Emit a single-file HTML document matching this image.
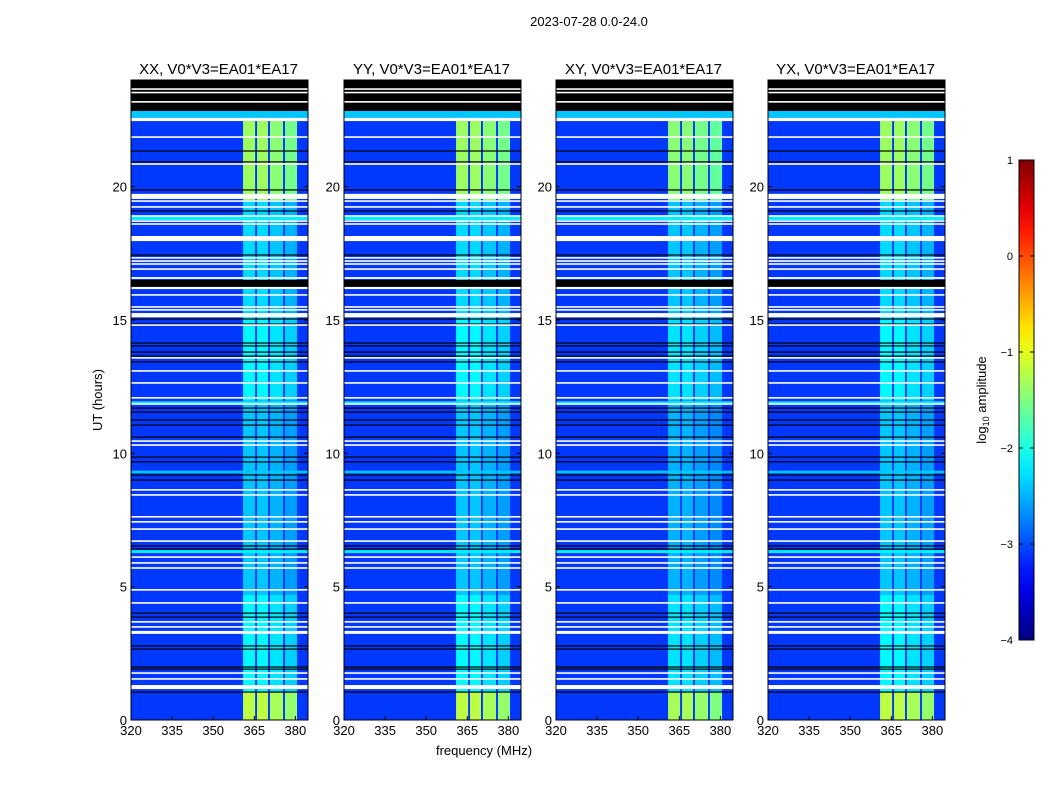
<!DOCTYPE html>
<html><head><meta charset="utf-8"><style>
html,body{margin:0;padding:0;background:#fff;}
svg text{font-family:"Liberation Sans","DejaVu Sans",sans-serif;}
</style></head><body>
<svg id="fig" width="1050" height="800" xmlns="http://www.w3.org/2000/svg">
<text x="589" y="26" font-size="13" text-anchor="middle">2023-07-28 0.0-24.0</text>
<text x="484" y="755" font-size="13" text-anchor="middle">frequency (MHz)</text>
<text x="102" y="400" font-size="13" text-anchor="middle" transform="rotate(-90 102 400)">UT (hours)</text>
<text x="986" y="400" font-size="13" text-anchor="middle" transform="rotate(-90 986 400)">log<tspan font-size="9" dy="3">10</tspan><tspan dy="-3"> amplitude</tspan></text>
<g id="panels"></g>
<g id="cbar"></g>
</svg>
<script>
const panelTitles=["XX, V0*V3=EA01*EA17","YY, V0*V3=EA01*EA17","XY, V0*V3=EA01*EA17","YX, V0*V3=EA01*EA17"];
const panelLeft=[131,344,556,768];
const panelOffset=[0,0,-0.1,0];
const xTicks=[320,335,350,365,380];
const yTicks=[0,5,10,15,20];
const cbTicks=[1,0,-1,-2,-3,-4];
const backgroundLevel=-3.1;
// bright stripes [f0,f1,offset] in MHz
const stripes=[[360.9,365.3,0],[366,370,0],[370.7,375.5,-0.1],[376.2,380.6,-0.2]];
// time segments [t0,t1,stripe level]
const segments=[[0,1.05,-1.2],[1.05,4.7,-2.15],[4.7,12,-2.4],[12,15.1,-2.15],[15.1,19.5,-2.3],[19.5,22.5,-1.35],[22.5,22.84,-2.5]];
// broadband cyan rows [t0,t1,level]
const cyanBands=[[22.58,22.84,-2.4],[18.75,18.9,-2.2],[11.85,11.95,-2.2],[9.25,9.35,-2.4],[6.26,6.37,-2.2]];
const blackBands=[[22.84,24],[21.32,21.36],[20.91,20.95],[19.86,19.9],[19.07,19.11],[17.42,17.46],[16.24,16.5],[15.02,15.06],[14.83,14.87],[14.12,14.16],[14.01,14.05],[13.78,13.82],[13.63,13.67],[13.41,13.45],[11.68,11.72],[11.53,11.57],[11.23,11.27],[11.04,11.08],[10.59,10.63],[9.84,9.88],[9.66,9.7],[9.17,9.21],[8.98,9.02],[6.51,6.55],[6.39,6.43],[3.99,4.03],[3.84,3.88],[2.76,2.8],[2.64,2.68],[1.97,2.01],[1.89,1.93],[1.03,1.07]];
const whiteBands=[[23.63,23.69],[23.5,23.56],[23.15,23.21],[22.46,22.58],[21.83,21.89],[20.82,20.88],[19.54,19.73],[19.43,19.49],[19.21,19.27],[18.87,18.93],[18.68,18.74],[18.57,18.63],[17.96,18.15],[17.3,17.36],[17.18,17.24],[17.07,17.13],[16.88,16.94],[16.54,16.61],[16.16,16.24],[15.91,15.97],[15.46,15.52],[15.35,15.41],[15.1,15.26],[14.78,14.84],[13.55,13.61],[13.06,13.12],[12.61,12.67],[12.05,12.11],[11.82,11.88],[10.43,10.49],[10.28,10.34],[8.6,8.66],[8.41,8.47],[7.59,7.65],[7.4,7.46],[7.13,7.19],[6.68,6.74],[6.08,6.14],[5.86,5.92],[5.67,5.73],[4.85,4.91],[4.36,4.42],[3.65,3.71],[3.46,3.52],[3.23,3.34],[1.73,1.79],[1.51,1.57],[1.16,1.31]];

const NS="http://www.w3.org/2000/svg";
const PW=177, TOP=80, BOT=720, F0=320, F1=384.6;
function yScale(t){return BOT-(t/24)*(BOT-TOP);}
function jet(v){let x=(v+4)/5;x=Math.max(0,Math.min(1,x));
 const c=(a)=>Math.max(0,Math.min(1,a));
 const r=c(1.5-Math.abs(4*x-3)),g=c(1.5-Math.abs(4*x-2)),b=c(1.5-Math.abs(4*x-1));
 return `rgb(${Math.round(r*255)},${Math.round(g*255)},${Math.round(b*255)})`;}
function mk(tag,attrs,parent){const e=document.createElementNS(NS,tag);for(const k in attrs)e.setAttribute(k,attrs[k]);parent.appendChild(e);return e;}
const root=document.getElementById('panels');
panelLeft.forEach((L,pi)=>{
 const xs=f=>L+(f-F0)/(F1-F0)*PW;
 const g=mk('g',{},root);
 
 
 const bg=mk('rect',{x:L,y:TOP,width:PW,height:BOT-TOP,fill:jet(backgroundLevel)},g);
 
 
 segments.forEach(s=>{
  stripes.forEach(st=>{
   const r=mk('rect',{x:xs(st[0]),y:yScale(s[1]),width:xs(st[1])-xs(st[0]),height:yScale(s[0])-yScale(s[1]),fill:jet(s[2]+st[2]+panelOffset[pi])},g);
   
   
  });
 });
 cyanBands.forEach(b=>{
  const r=mk('rect',{x:L,y:yScale(b[1]),width:PW,height:yScale(b[0])-yScale(b[1]),fill:jet(b[2])},g);
  
  
 });
 blackBands.forEach(b=>{
  const h=Math.max(1.2,yScale(b[0])-yScale(b[1]));
  const r=mk('rect',{x:L,y:yScale(b[1]),width:PW,height:h,fill:'#000'},g);
  
  
 });
 whiteBands.forEach(b=>{
  const h=Math.max(1.6,yScale(b[0])-yScale(b[1]));
  const r=mk('rect',{x:L,y:yScale(b[1]),width:PW,height:h,fill:'#fff'},g);
  
  
 });
 const fr=mk('rect',{x:L,y:TOP,width:PW,height:BOT-TOP,fill:'none',stroke:'#000','stroke-width':1},g);
 
 
 const tt=mk('text',{x:L+PW/2-1,y:74,'font-size':15,'text-anchor':'middle'},g);
 tt.textContent=panelTitles[pi];
 
 
 xTicks.forEach(f=>{
  const x=xs(f);
  mk('line',{x1:x,x2:x,y1:BOT,y2:BOT-4,stroke:'#000'},g);
  mk('line',{x1:x,x2:x,y1:TOP,y2:TOP+4,stroke:'#000'},g);
  const t=mk('text',{x:x,y:BOT+15,'font-size':13,'text-anchor':'middle'},g);
  t.textContent=f;
  
  
 });
 yTicks.forEach(v=>{
  const y=yScale(v);
  mk('line',{x1:L,x2:L+4,y1:y,y2:y,stroke:'#000'},g);
  mk('line',{x1:L+PW,x2:L+PW-4,y1:y,y2:y,stroke:'#000'},g);
  const t=mk('text',{x:L-4,y:y+5,'font-size':13,'text-anchor':'end'},g);
  t.textContent=v;
  
  
 });
});
// colorbar
const cb=document.getElementById('cbar');
const CX=1019,CW=15,CT=160,CB=640;
const cbScale=v=>CT+(1-v)/5*(CB-CT);
const defs=mk('defs',{},cb);
const lg=mk('linearGradient',{id:'jetg',x1:0,y1:1,x2:0,y2:0},defs);
for(let i=0;i<=20;i++){mk('stop',{offset:(i/20),'stop-color':jet(-4+5*i/20)},lg);}
const bar=mk('rect',{x:CX,y:CT,width:CW,height:CB-CT,fill:'url(#jetg)',stroke:'#000','stroke-width':1},cb);


cbTicks.forEach(v=>{
 const y=cbScale(v);
 mk('line',{x1:CX,x2:CX+4,y1:y,y2:y,stroke:'#000'},cb);
 mk('line',{x1:CX+CW,x2:CX+CW-4,y1:y,y2:y,stroke:'#000'},cb);
 const t=mk('text',{x:CX-6,y:y+4,'font-size':11,'text-anchor':'end'},cb);
 t.textContent=v<0?'\u2212'+(-v):String(v);
 
 
});
</script>
</body></html>
